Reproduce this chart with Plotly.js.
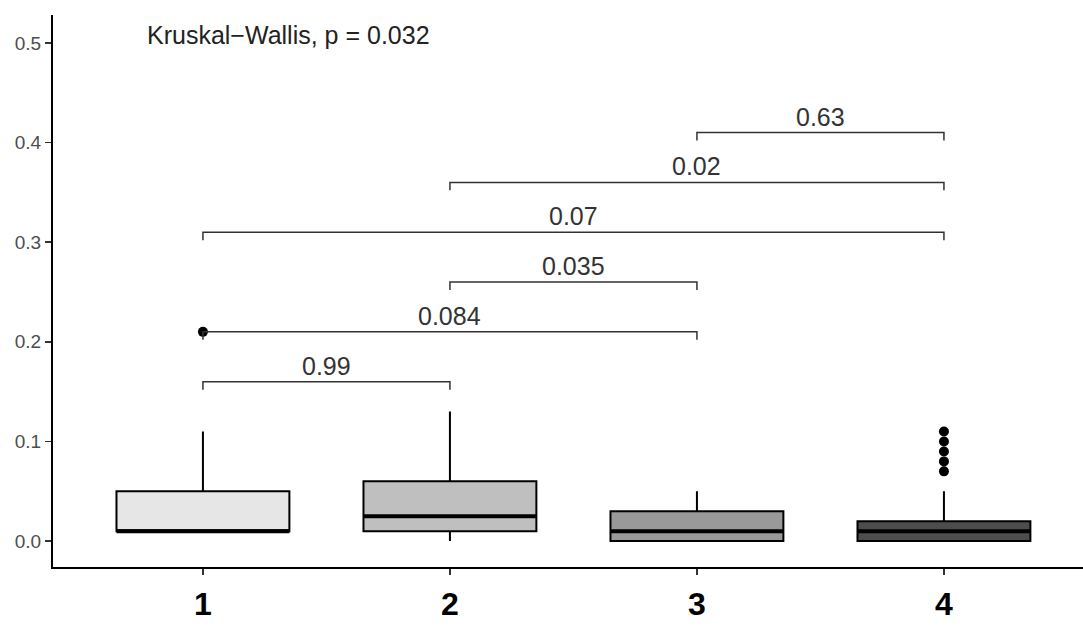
<!DOCTYPE html>
<html>
<head>
<meta charset="utf-8">
<script src="https://cdn.plot.ly/plotly-3.0.1.min.js"></script>
<style>html,body{margin:0;padding:0;background:#fff;}#chart{width:1083px;height:635px;}</style>
</head>
<body>
<div id="chart"></div>
<script>
// ---- data ----
const groups = [1, 2, 3, 4];
const groupLabels = ["1", "2", "3", "4"];
const q1 = [0.01, 0.01, 0.0, 0.0];
const medians = [0.01, 0.025, 0.01, 0.01];
const q3 = [0.05, 0.06, 0.03, 0.02];
const lowerFence = [0.01, 0.0, 0.0, 0.0];
const upperFence = [0.11, 0.13, 0.05, 0.05];
const fills = ["#e6e6e6", "#bfbfbf", "#999999", "#4d4d4d"];
const outlierGroup = [1, 4, 4, 4, 4, 4];
const outlierValue = [0.21, 0.07, 0.08, 0.09, 0.10, 0.11];
// pairwise comparisons
const compFrom = [1, 1, 2, 1, 2, 3];
const compTo = [2, 3, 3, 4, 4, 4];
const compY = [0.16, 0.21, 0.26, 0.31, 0.36, 0.41];
const compP = ["0.99", "0.084", "0.035", "0.07", "0.02", "0.63"];
const kwLabel = "Kruskal\u2212Wallis, p = 0.032";
const yTicks = [0.0, 0.1, 0.2, 0.3, 0.4, 0.5];
const yTickText = ["0.0", "0.1", "0.2", "0.3", "0.4", "0.5"];

// ---- style ----
const boxWidth = 0.7;
const tipLen = 0.008;
const font = "Liberation Sans, Arial, sans-serif";

const traces = [];
groups.forEach((g, i) => {
  traces.push({
    type: "box",
    x: [g],
    q1: [q1[i]], median: [medians[i]], q3: [q3[i]],
    lowerfence: [lowerFence[i]], upperfence: [upperFence[i]],
    width: boxWidth,
    fillcolor: fills[i],
    line: {color: "#000000", width: 2},
    whiskerwidth: 0,
    boxpoints: false,
    hoverinfo: "skip",
    showlegend: false
  });
  // thick median (ggplot fatten)
  traces.push({
    type: "scatter", mode: "lines",
    x: [g - boxWidth / 2, g + boxWidth / 2],
    y: [medians[i], medians[i]],
    line: {color: "#000000", width: 4},
    hoverinfo: "skip", showlegend: false
  });
});

traces.push({
  type: "scatter", mode: "markers",
  x: outlierGroup, y: outlierValue,
  marker: {color: "#000000", size: 10},
  hoverinfo: "skip", showlegend: false
});

const annotations = [];
compFrom.forEach((a, i) => {
  const b = compTo[i];
  const y = compY[i];
  traces.push({
    type: "scatter", mode: "lines",
    x: [a, a, b, b],
    y: [y - tipLen, y, y, y - tipLen],
    line: {color: "#333333", width: 1.5},
    hoverinfo: "skip", showlegend: false
  });
  annotations.push({
    x: (a + b) / 2, y: y, xref: "x", yref: "y",
    text: compP[i], showarrow: false,
    yanchor: "bottom", yshift: 0,
    font: {family: font, size: 25, color: "#333333"}
  });
});

annotations.push({
  x: 0.765, y: 0.508, xref: "x", yref: "y",
  text: kwLabel, showarrow: false,
  xanchor: "left", yanchor: "middle",
  font: {family: font, size: 25, color: "#222222"}
});

const layout = {
  width: 1083, height: 635,
  margin: {l: 53, r: 0, t: 15, b: 68},
  paper_bgcolor: "#ffffff", plot_bgcolor: "#ffffff",
  showlegend: false,
  xaxis: {
    range: [0.393, 4.563],
    tickmode: "array", tickvals: groups, ticktext: groupLabels,
    showgrid: false, zeroline: false,
    showline: true, linecolor: "#000000", linewidth: 2,
    ticks: "outside", ticklen: 6, tickwidth: 1.5, tickcolor: "#333333",
    tickfont: {family: "Liberation Sans Narrow, Arial Narrow, Liberation Sans, sans-serif", size: 32, color: "#000000", weight: "bold"},
    ticklabelstandoff: 2
  },
  yaxis: {
    range: [-0.026, 0.528],
    tickmode: "array", tickvals: yTicks, ticktext: yTickText,
    showgrid: false, zeroline: false,
    showline: true, linecolor: "#000000", linewidth: 2,
    ticks: "outside", ticklen: 6, tickwidth: 1.5, tickcolor: "#333333",
    tickfont: {family: font, size: 19, color: "#4d4d4d"}
  },
  annotations: annotations
};

Plotly.newPlot("chart", traces, layout, {staticPlot: true, displayModeBar: false});
</script>
</body>
</html>
